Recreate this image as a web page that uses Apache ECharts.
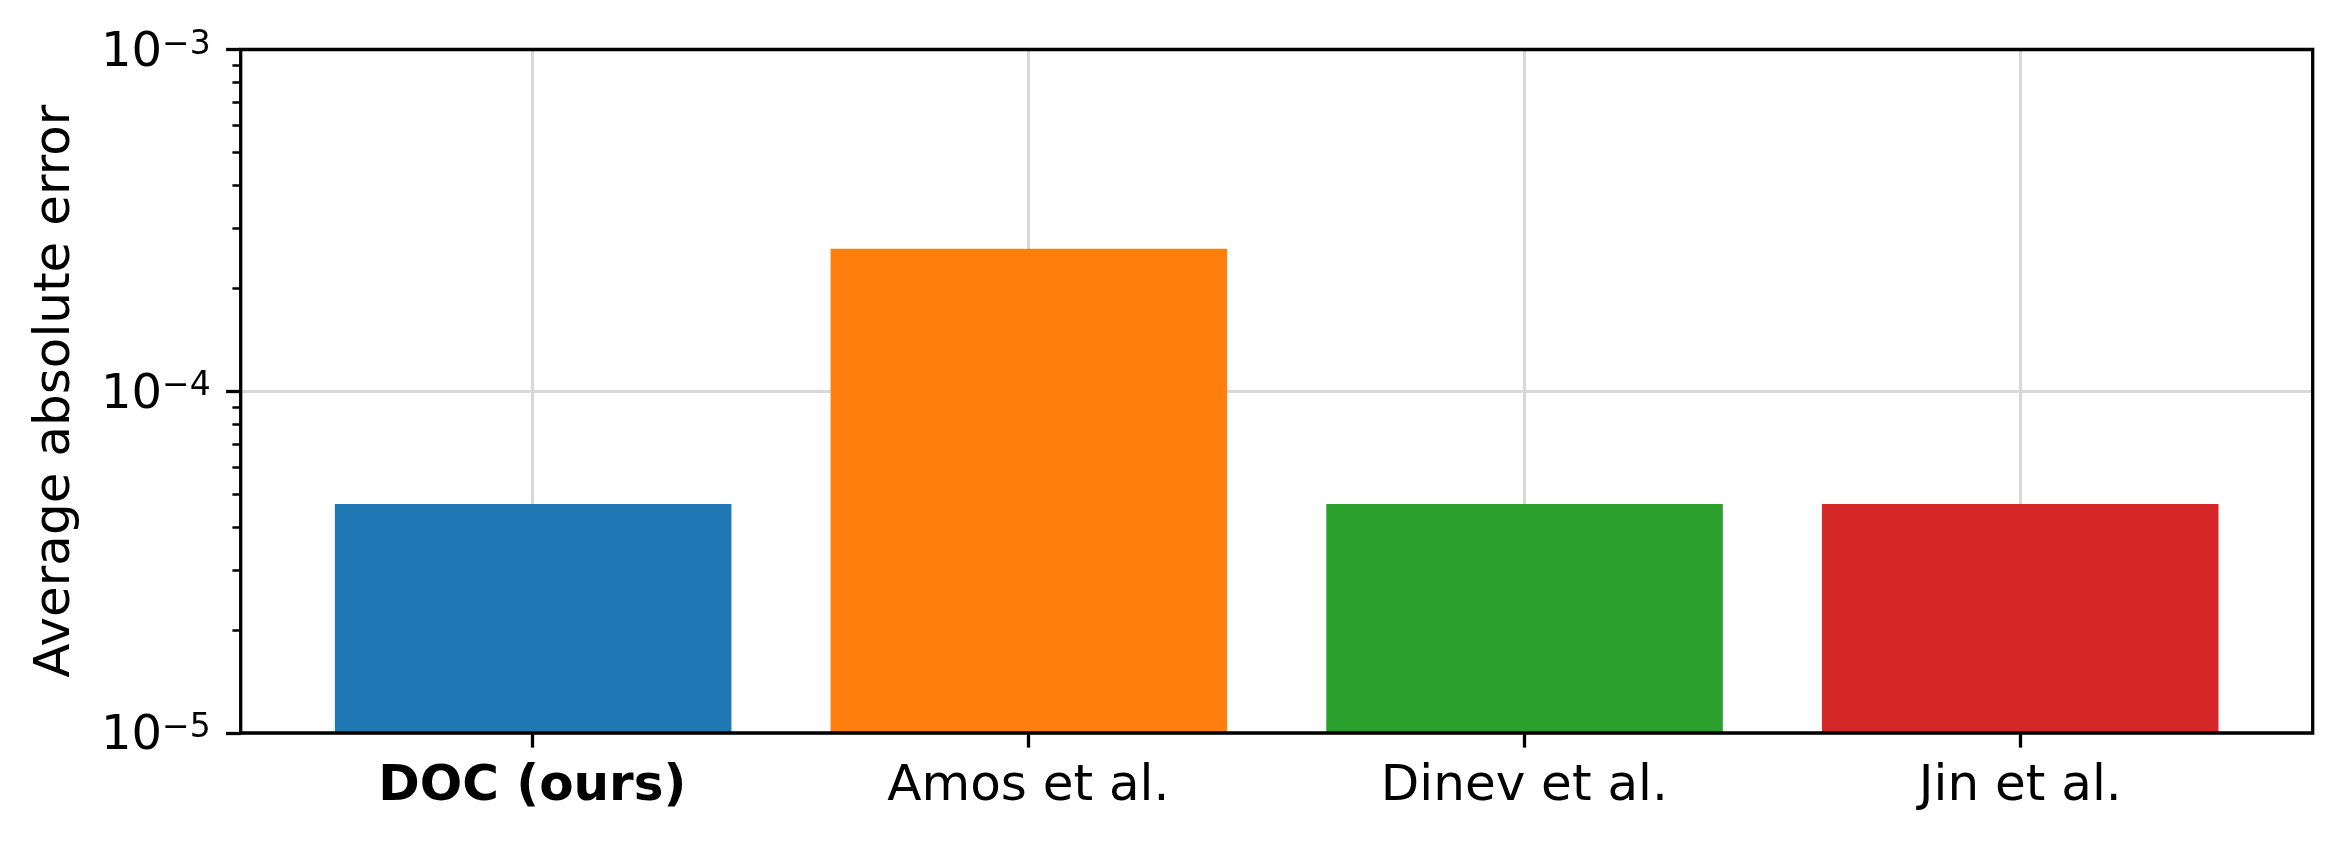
<!DOCTYPE html>
<html>
<head>
<meta charset="utf-8">
<script src="https://cdn.jsdelivr.net/npm/echarts@6/dist/echarts.min.js"></script>
<style>
html,body{margin:0;padding:0;background:#fff;}
#chart{width:2342px;height:841px;}
</style>
</head>
<body>
<div id="chart"></div>
<script>
// ---- data ----
const categories = ['DOC (ours)', 'Amos et al.', 'Dinev et al.', 'Jin et al.'];
const errorValues = [4.68e-5, 2.61e-4, 4.68e-5, 4.68e-5];
const barColors = ['#1f77b4', '#ff7f0e', '#2ca02c', '#d62728'];
const yMajorTicks = [1e-5, 1e-4, 1e-3];
const yMinorTicks = [2e-5, 3e-5, 4e-5, 5e-5, 6e-5, 7e-5, 8e-5, 9e-5,
                     2e-4, 3e-4, 4e-4, 5e-4, 6e-4, 7e-4, 8e-4, 9e-4];
const yLabel = 'Average absolute error';
const yMin = 1e-5, yMax = 1e-3;

const FONT = 'DejaVu Sans';
const chart = echarts.init(document.getElementById('chart'), null, {renderer: 'canvas'});

const gridStyle = {color: '#d8d8d8', width: 3};
const TOP = 49.5, BOTTOM = 108;
const BAR_WIDTH = 0.8;

const option = {
  backgroundColor: '#ffffff',
  animation: false,
  grid: [
    {left: 240.7, right: 29.3, top: TOP, bottom: BOTTOM, show: true,
     borderColor: '#000', borderWidth: 3.3, backgroundColor: 'transparent', z: 10},
    {left: 532.3, right: 321.7, top: TOP, bottom: BOTTOM, show: false}
  ],
  xAxis: [
    {type: 'value', gridIndex: 0, min: -0.59, max: 3.59, show: false,
     axisLine: {show: false, onZero: false}},
    {type: 'value', gridIndex: 1, min: 0, max: 3, interval: 1,
     axisLine: {show: false, onZero: false},
     axisTick: {show: true, length: 14.6, lineStyle: {color: '#000', width: 3.3}},
     splitLine: {show: true, lineStyle: gridStyle},
     axisLabel: {
       margin: 29, color: '#000', fontFamily: FONT, fontSize: 50,
       formatter: function (v) {
         const i = Math.round(v);
         const name = categories[i] || '';
         return i === 0 ? '{bd|' + name + '}' : '{nm|' + name + '}';
       },
       rich: {
         bd: {fontFamily: FONT, fontSize: 50, fontWeight: 'bold', color: '#000'},
         nm: {fontFamily: FONT, fontSize: 50, color: '#000'}
       }
     }}
  ],
  yAxis: [
    {type: 'log', gridIndex: 0, min: yMin, max: yMax, logBase: 10,
     name: yLabel, nameLocation: 'middle', nameGap: 160, nameRotate: 90,
     nameTextStyle: {fontFamily: FONT, fontSize: 50, color: '#000'},
     axisLine: {show: false, onZero: false},
     axisTick: {show: true, length: 14.6, customValues: yMajorTicks,
                lineStyle: {color: '#000', width: 3.3}},
     splitLine: {show: true, lineStyle: gridStyle},
     axisLabel: {
       customValues: yMajorTicks,
       margin: 30, color: '#000', padding: [8, 0, 0, 0],
       formatter: function (v) {
         const e = Math.round(Math.log10(v));
         return '{b|10}{s|' + (e < 0 ? '\u2212' : '') + Math.abs(e) + '}';
       },
       rich: {
         b: {fontFamily: FONT, fontSize: 48, lineHeight: 50, color: '#000'},
         s: {fontFamily: FONT, fontSize: 33, lineHeight: 29, verticalAlign: 'top', color: '#000'}
       }
     }},
    {type: 'log', gridIndex: 0, min: yMin, max: yMax, logBase: 10, position: 'left',
     axisLine: {show: false, onZero: false}, axisLabel: {show: false}, splitLine: {show: false},
     axisTick: {show: true, length: 8.3, customValues: yMinorTicks,
                lineStyle: {color: '#000', width: 2.5}}},
    {type: 'value', gridIndex: 1, min: 0, max: 1, show: false,
     axisLine: {show: false, onZero: false}, axisTick: {show: false}, axisLabel: {show: false},
     splitLine: {show: false}}
  ],
  series: [
    {type: 'custom', xAxisIndex: 0, yAxisIndex: 0, clip: true,
     encode: {x: 0, y: 1},
     data: errorValues.map(function (v, i) { return [i, v]; }),
     renderItem: function (params, api) {
       const x = api.value(0), y = api.value(1);
       const left = api.coord([x - BAR_WIDTH / 2, y]);
       const right = api.coord([x + BAR_WIDTH / 2, y]);
       const base = api.coord([x, yMin]);
       return {
         type: 'rect',
         shape: {x: left[0], y: left[1], width: right[0] - left[0], height: base[1] - left[1]},
         style: {fill: barColors[params.dataIndex]}
       };
     }}
  ]
};
chart.setOption(option);
</script>
</body>
</html>
